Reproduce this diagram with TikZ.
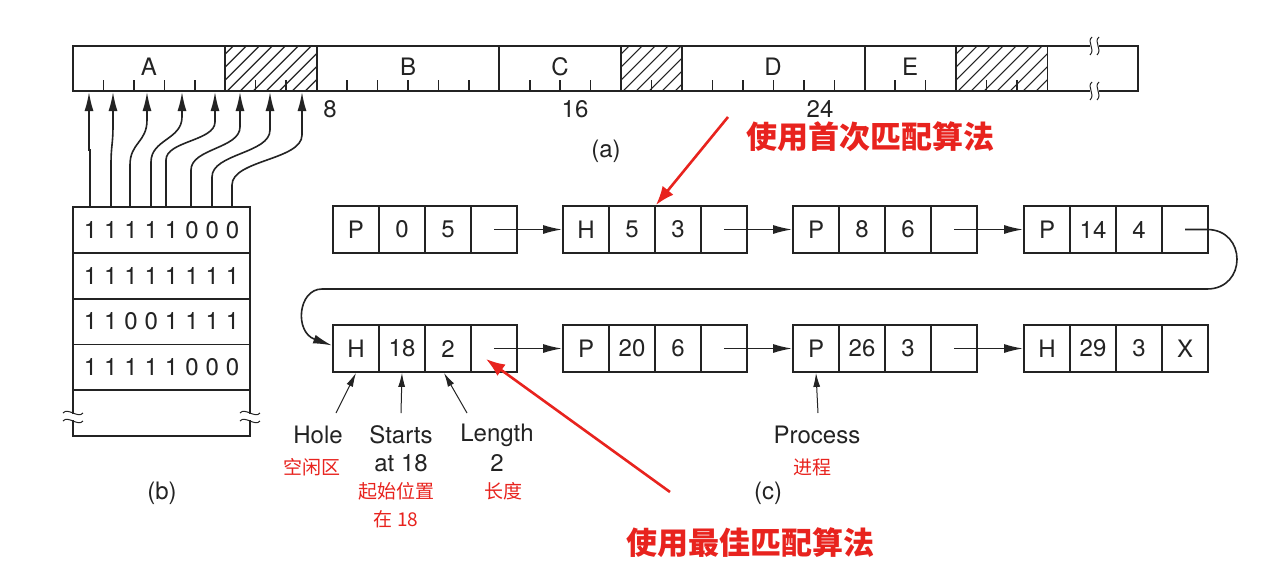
\documentclass[tikz,border=0pt]{standalone}
\usepackage{fontspec}
\setmainfont{TeX Gyre Heros}
\newfontfamily\cjk{Noto Sans CJK SC}
\usetikzlibrary{arrows.meta,calc}
\definecolor{annred}{RGB}{232,35,30}
\definecolor{ink}{RGB}{35,35,35}
\newcommand\bd[1]{\makebox[20.3pt]{#1}}
\newcommand\listbox[7]{%
  \node[cell] (#1-1) at ({#2+23},#3) {#4};
  \node[cell] (#1-2) at ({#2+69},#3) {#5};
  \node[cell] (#1-3) at ({#2+115},#3) {#6};
  \node[cell] (#1-4) at ({#2+161},#3) {#7};
}
\tikzset{
  cell/.style={draw=ink, line width=1.8pt, minimum width=46pt, minimum height=47pt, inner sep=0pt, text=ink},
  bitrow/.style={draw=ink, line width=1.8pt, minimum width=177pt, minimum height=45.8pt, inner sep=0pt, text=ink},
  lbl/.style={text=ink, inner sep=0pt},
  rlbl/.style={text=annred, inner sep=0pt, font=\cjk\fontsize{19}{22}\selectfont},
  bigred/.style={text=annred, inner sep=0pt, text height=24pt, text depth=3pt, font=\cjk\bfseries\fontsize{31}{36}\selectfont},
  conn/.style={draw=ink, line width=1.6pt, -{Latex[length=19pt,width=9pt]}},
  barr/.style={draw=ink, line width=1.6pt, -{Latex[length=19pt,width=9pt]}},
  thin/.style={draw=ink, line width=1pt, -{Latex[length=14pt,width=7pt]}},
  redarr/.style={draw=annred, line width=2.6pt, -{Latex[length=19pt,width=14pt]}},
  edge/.style={draw=ink, line width=1.8pt},
}
\begin{document}
\begin{tikzpicture}[x=1pt,y=-1pt,font=\fontsize{24}{28}\selectfont]
\useasboundingbox (0,0) rectangle (1280,576);
\fill[white] (0,0) rectangle (1280,576);

% ---------- (a) memory bar ----------
\foreach \a/\b in {5/8,18/20,29/32}{
  \begin{scope}
    \clip ({73+\a*30.45},46) rectangle ({73+\b*30.45},91);
    \foreach \s in {0,...,15}{
      \draw[ink, line width=1.1pt] ({73+\a*30.45-50+\s*13},91) -- ++(45,-45);
    }
  \end{scope}
}
\draw[edge] (73,46) rectangle (1138,91);
\foreach \n in {5,8,14,18,20,26,29,32}{
  \draw[edge] ({73+\n*30.45},46) -- ({73+\n*30.45},91);
}
\foreach \n in {1,2,3,4,6,7,9,10,11,12,13,15,16,17,19,21,22,23,24,25,27,28,30,31}{
  \draw[ink, line width=1.5pt] ({73+\n*30.45},91) -- ({73+\n*30.45},80);
}
% break marks on the bar
\fill[white] (1090,40) rectangle (1099,52);
\fill[white] (1090,85) rectangle (1099,97);
\foreach \yy in {46,91}{
  \draw[ink, line width=1pt] (1092,{\yy-9}) .. controls (1086,{\yy-4}) and (1096,{\yy+3}) .. (1090,{\yy+9});
  \draw[ink, line width=1pt] (1099,{\yy-9}) .. controls (1093,{\yy-4}) and (1103,{\yy+3}) .. (1097,{\yy+9});
}
\node[lbl] (lA) at (149,67) {A};
\node[lbl] (lB) at (408,67) {B};
\node[lbl] (lC) at (560,67) {C};
\node[lbl] (lD) at (773,67) {D};
\node[lbl] (lE) at (910,67) {E};
\node[lbl] (n8) at (330,109) {8};
\node[lbl] (n16) at (575,109) {16};
\node[lbl] (n24) at (820,109) {24};
\node[lbl] (capa) at (606,151) {(a)};

% ---------- (b) bitmap ----------
\node[bitrow] (m1) at (161.5,229.9) {\bd1\bd1\bd1\bd1\bd1\bd0\bd0\bd0};
\node[bitrow] (m2) at (161.5,275.7) {\bd1\bd1\bd1\bd1\bd1\bd1\bd1\bd1};
\node[bitrow] (m3) at (161.5,321.5) {\bd1\bd1\bd0\bd0\bd1\bd1\bd1\bd1};
\node[bitrow] (m4) at (161.5,367.3) {\bd1\bd1\bd1\bd1\bd1\bd0\bd0\bd0};
\node[bitrow] (m5) at (161.5,413.1) {};
\foreach \xx in {73,250}{
  \fill[white] ({\xx-4},414) rectangle ({\xx+4},420);
  \draw[ink, line width=1pt] ({\xx-10},413) .. controls ({\xx-5},407) and ({\xx+5},419) .. ({\xx+10},413);
  \draw[ink, line width=1pt] ({\xx-10},421) .. controls ({\xx-5},415) and ({\xx+5},427) .. ({\xx+10},421);
}
\node[lbl] (capb) at (162,493) {(b)};

\foreach \xb/\xt/\ya/\yb [count=\i] in {90/89/150/150, 111/113/165/125, 130/147/165/120, 151/182/162/117, 166/215/160/122, 191/240/170/127, 212/270/177/130, 232/302/185/135}{
  \coordinate (bb\i) at (\xb,207);
  \coordinate (bt\i) at (\xt,92);
  \draw[barr] (bb\i) -- (\xb,\ya) .. controls (\xb,{(\ya+\yb)/2}) and (\xt,{(\ya+\yb)/2}) .. (\xt,\yb) -- (bt\i);
}

% ---------- (c) linked list ----------
\listbox{a}{333}{229.5}{P}{0}{5}{}
\listbox{b}{563}{229.5}{H}{5}{3}{}
\listbox{c}{793}{229.5}{P}{8}{6}{}
\listbox{d}{1024}{229.5}{P}{14}{4}{}
\listbox{e}{333}{348.5}{H}{18}{2}{}
\listbox{f}{563}{348.5}{P}{20}{6}{}
\listbox{g}{793}{348.5}{P}{26}{3}{}
\listbox{h}{1024}{348.5}{H}{29}{3}{X}

\draw[conn] (a-4.center) -- (b-1.west);
\draw[conn] (b-4.center) -- (c-1.west);
\draw[conn] (c-4.center) -- (d-1.west);
\draw[conn] (e-4.center) -- (f-1.west);
\draw[conn] (f-4.center) -- (g-1.west);
\draw[conn] (g-4.center) -- (h-1.west);
\draw[conn] (d-4.center) -- (1207,229.5) .. controls (1247,229.5) and (1247,289) .. (1207,289)
  -- (322,289) .. controls (298,289) and (294,332) .. ($(e-1.west)+(0,-3)$);

% labels under list
\node[lbl] (hole) at (318,435) {Hole};
\node[lbl] (starts) at (401,435) {Starts};
\node[lbl] (at18) at (401,463) {at 18};
\node[lbl] (length) at (497,435) {Length};
\node[lbl] (len2) at (497,463) {2};
\node[lbl] (proc) at (817,435) {Process};
\node[lbl] (capc) at (768,493) {(c)};
\node[rlbl] (zh1) at (312,467) {空闲区};
\node[rlbl] (zh2) at (396,491) {起始位置};
\node[rlbl] (zh3) at (396,519) {在 18};
\node[rlbl] (zh4) at (503,491) {长度};
\node[rlbl] (zh5) at (812,467) {进程};

\coordinate (hT) at (336,413);
\coordinate (sT) at (401,413);
\coordinate (lT) at (467,413);
\coordinate (pT) at (818,413);
\draw[thin] (hT) -- (e-1.south);
\draw[thin] (sT) -- (e-2.south);
\draw[thin] (lT) -- ($(e-3.south)+(-4,0)$);
\draw[thin] (pT) -- (g-1.south);

% red annotations
\node[bigred] (first) at (870,138) {使用首次匹配算法};
\node[bigred] (best) at (750,544) {使用最佳匹配算法};
\coordinate (r1s) at (728,117);
\coordinate (r2s) at (670,492);
\draw[redarr] (r1s) -- (b-2.north east);
\draw[redarr] (r2s) -- (486,359);
\end{tikzpicture}
\end{document}
